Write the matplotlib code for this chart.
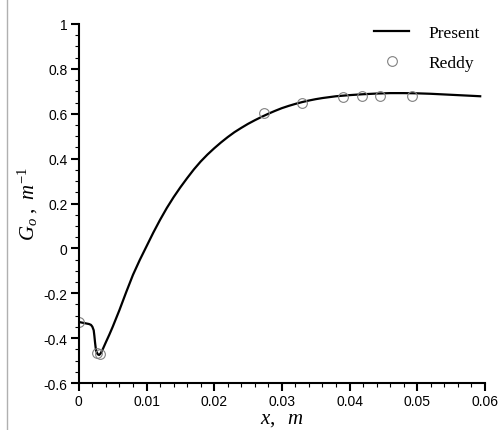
import matplotlib
matplotlib.use("Agg")
import matplotlib.pyplot as plt
from matplotlib.lines import Line2D
from matplotlib.ticker import MultipleLocator

plt.rcParams["mathtext.fontset"] = "custom"
plt.rcParams["mathtext.it"] = "Liberation Serif:italic"
plt.rcParams["mathtext.rm"] = "Liberation Serif"

# Present solution
x_present = [0.0, 0.0005, 0.001, 0.0015, 0.0018, 0.0020, 0.0022, 0.0023, 0.0024,
             0.0025, 0.0026, 0.0028, 0.0030, 0.0032, 0.0035, 0.0040, 0.0045,
             0.005, 0.006, 0.007, 0.008, 0.009, 0.010, 0.011, 0.012, 0.013,
             0.014, 0.015, 0.016, 0.017, 0.018, 0.019, 0.020, 0.021, 0.022,
             0.023, 0.024, 0.025, 0.026, 0.027, 0.028, 0.029, 0.030, 0.031,
             0.032, 0.033, 0.034, 0.035, 0.036, 0.038, 0.040, 0.042, 0.044,
             0.046, 0.048, 0.050, 0.052, 0.054, 0.056, 0.058, 0.0593]
g_present = [-0.328, -0.331, -0.334, -0.337, -0.341, -0.349, -0.365, -0.39, -0.42,
             -0.445, -0.46, -0.472, -0.475, -0.469, -0.452, -0.418, -0.385,
             -0.35, -0.275, -0.195, -0.118, -0.052, 0.009, 0.07, 0.127, 0.18,
             0.228, 0.272, 0.313, 0.352, 0.387, 0.418, 0.446, 0.472, 0.496,
             0.518, 0.537, 0.555, 0.571, 0.586, 0.600, 0.613, 0.625, 0.635,
             0.644, 0.652, 0.659, 0.665, 0.670, 0.678, 0.683, 0.687, 0.690,
             0.692, 0.692, 0.691, 0.689, 0.686, 0.683, 0.680, 0.678]

# Reddy reference points
x_reddy = [0.0, 0.0027, 0.0031, 0.0273, 0.0330, 0.0390, 0.0418, 0.0445, 0.0492]
g_reddy = [-0.326, -0.466, -0.472, 0.602, 0.648, 0.675, 0.679, 0.679, 0.677]

fig = plt.figure(figsize=(5.02, 4.31), dpi=100)
ax = fig.add_axes([0.157, 0.109, 0.809, 0.833])

ax.plot(x_present, g_present, color="black", lw=1.6, label="Present")
ax.plot(x_reddy, g_reddy, linestyle="none", marker="o", ms=7, mfc="none",
        mec="#808080", mew=0.8, label="Reddy")

ax.set_xlim(0, 0.06)
ax.set_ylim(-0.6, 1.0)
ax.xaxis.set_minor_locator(MultipleLocator(0.002))
ax.yaxis.set_minor_locator(MultipleLocator(0.05))
ax.set_xticks([0, 0.01, 0.02, 0.03, 0.04, 0.05, 0.06])
ax.set_xticklabels(["0", "0.01", "0.02", "0.03", "0.04", "0.05", "0.06"])
ax.set_yticks([-0.6, -0.4, -0.2, 0, 0.2, 0.4, 0.6, 0.8, 1.0])
ax.set_yticklabels(["-0.6", "-0.4", "-0.2", "0", "0.2", "0.4", "0.6", "0.8", "1"])

for s in ("top", "right"):
    ax.spines[s].set_visible(False)
for s in ("left", "bottom"):
    ax.spines[s].set_linewidth(1.5)

ax.tick_params(which="major", direction="out", length=6, width=1.5,
               labelsize=10, pad=2)
ax.tick_params(which="minor", direction="out", length=3, width=0.8)
for lab in ax.get_xticklabels() + ax.get_yticklabels():
    lab.set_family("Liberation Sans")

ax.set_xlabel(r"$x,\ \ m$", fontsize=15, labelpad=0)
ax.set_ylabel(r"$G_o\ ,\ m^{-1}$", fontsize=15, labelpad=3)

ax.legend(loc="upper right", bbox_to_anchor=(1.025, 1.04), frameon=False,
          prop={"family": "Liberation Serif", "size": 12.5},
          handlelength=2.0, handletextpad=1.1, labelspacing=0.75)

fig.add_artist(Line2D([7 / 502, 7 / 502], [0, 1], color="#b0b0b0", lw=1))

fig.savefig("out.png", dpi=100)
plt.close(fig)
